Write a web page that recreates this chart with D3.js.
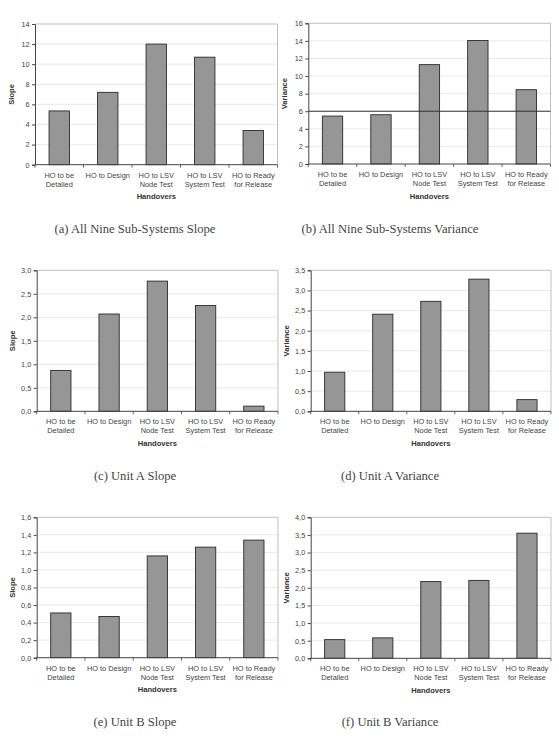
<!DOCTYPE html>
<html>
<head>
<meta charset="utf-8">
<script src="https://cdn.jsdelivr.net/npm/d3@7"></script>
<style>
  body { margin: 0; background: #fff; }
  svg { display: block; }
</style>
</head>
<body>
<div class="figure"></div>
<script>
// handover categories, two-line labels split on "|"
const categories = ["HO to be|Detailed", "HO to Design", "HO to LSV|Node Test", "HO to LSV|System Test", "HO to Ready|for Release"];

const slopeAll = [5.35, 7.2, 12.0, 10.7, 3.4];
const varianceAll = [5.45, 5.6, 11.3, 14.05, 8.45];
const slopeUnitA = [0.87, 2.07, 2.77, 2.25, 0.11];
const varianceUnitA = [0.97, 2.41, 2.73, 3.28, 0.29];
const slopeUnitB = [0.51, 0.47, 1.16, 1.26, 1.34];
const varianceUnitB = [0.53, 0.58, 2.18, 2.21, 3.55];
const varianceThresholdAll = 6;

const yMaxes = [14, 16, 3.0, 3.5, 1.6, 4.0];
const yStepsList = [2, 2, 0.5, 0.5, 0.2, 0.5];
const captions = [
    "(a) All Nine Sub-Systems Slope",
    "(b) All Nine Sub-Systems Variance",
    "(c) Unit A Slope",
    "(d) Unit A Variance",
    "(e) Unit B Slope",
    "(f) Unit B Variance"
];

const width = 559, height = 753;
let svg = d3.select("div.figure").append("svg")
    .attr("width", width)
    .attr("height", height);

// plot boxes: left/right x, top/zero y
let panels = [
    { values: slopeAll, yTitle: "Slope", x0: 35, x1: 277.5, y0: 24, y1: 164.7, cap: 229, fmt: d3.format("d"), line: null },
    { values: varianceAll, yTitle: "Variance", x0: 308.3, x1: 550.5, y0: 23.3, y1: 164, cap: 229, fmt: d3.format("d"), line: varianceThresholdAll },
    { values: slopeUnitA, yTitle: "Slope", x0: 36.7, x1: 278, y0: 270.3, y1: 411.3, cap: 475.5, fmt: null, line: null },
    { values: varianceUnitA, yTitle: "Variance", x0: 310.7, x1: 551, y0: 270.3, y1: 411.3, cap: 475.5, fmt: null, line: null },
    { values: slopeUnitB, yTitle: "Slope", x0: 36.7, x1: 278, y0: 517.3, y1: 657.7, cap: 722, fmt: null, line: null },
    { values: varianceUnitB, yTitle: "Variance", x0: 310.7, x1: 551, y0: 517.3, y1: 658.3, cap: 722, fmt: null, line: null }
];

const commaFmt = d => d3.format(".1f")(d).replace(".", ",");
const sans = "Liberation Sans, Arial, sans-serif";

panels.forEach((p, i) => {
    let g = svg.append("g");
    let x = d3.scaleBand()
        .domain(categories)
        .range([p.x0, p.x1])
        .paddingInner(0.58)
        .paddingOuter(0.29);
    let y = d3.scaleLinear().domain([0, yMaxes[i]]).range([p.y1, p.y0]);
    let ticks = d3.range(0, yMaxes[i] + yStepsList[i] / 2, yStepsList[i]);
    let fmt = p.fmt || commaFmt;

    // gridlines
    g.selectAll("line.grid")
        .data(ticks.slice(1, -1))
        .enter().append("line")
        .attr("x1", p.x0).attr("x2", p.x1)
        .attr("y1", d => y(d)).attr("y2", d => y(d))
        .attr("stroke", "#e4e4e4").attr("stroke-width", 0.8);

    // frame top/right
    g.append("path")
        .attr("d", `M${p.x0},${p.y0}H${p.x1}V${p.y1}`)
        .attr("fill", "none")
        .attr("stroke", "#b8b8b8")
        .attr("stroke-width", 0.9);

    // bars
    g.selectAll("rect.bar")
        .data(p.values)
        .enter().append("rect")
        .attr("x", (d, j) => x(categories[j]))
        .attr("width", x.bandwidth())
        .attr("y", d => y(d))
        .attr("height", d => y(0) - y(d))
        .attr("fill", "#969696")
        .attr("stroke", "#2a2a2a")
        .attr("stroke-width", 0.9);

    if (p.line !== null) {
        g.append("line")
            .attr("x1", p.x0).attr("x2", p.x1)
            .attr("y1", y(p.line)).attr("y2", y(p.line))
            .attr("stroke", "#333")
            .attr("stroke-width", 1);
    }

    // y axis
    let yAxis = d3.axisLeft(y).tickValues(ticks).tickFormat(fmt).tickSize(3).tickPadding(2.5);
    let ya = g.append("g").attr("transform", `translate(${p.x0},0)`).call(yAxis);
    ya.select(".domain").attr("stroke", "#444");
    ya.selectAll(".tick line").attr("stroke", "#444");
    ya.selectAll("text")
        .attr("font-family", sans)
        .attr("font-size", 7.3)
        .attr("fill", "#444");

    // x axis: ticks at band edges
    let edges = categories.map(c => x(c) - x.step() * 0.29).concat([p.x1]);
    g.append("line")
        .attr("x1", p.x0).attr("x2", p.x1)
        .attr("y1", p.y1).attr("y2", p.y1)
        .attr("stroke", "#444").attr("stroke-width", 1);
    g.selectAll("line.xtick")
        .data(edges)
        .enter().append("line")
        .attr("x1", d => d).attr("x2", d => d)
        .attr("y1", p.y1).attr("y2", p.y1 + 3)
        .attr("stroke", "#444").attr("stroke-width", 0.8);

    let labels = g.selectAll("text.cat")
        .data(categories)
        .enter().append("text")
        .attr("x", d => x(d) + x.bandwidth() / 2)
        .attr("y", p.y1 + 12.8)
        .attr("text-anchor", "middle")
        .attr("font-family", sans)
        .attr("font-size", 7.4)
        .attr("fill", "#444");
    labels.each(function (d) {
        let parts = d.split("|");
        d3.select(this).selectAll("tspan")
            .data(parts)
            .enter().append("tspan")
            .attr("x", x(d) + x.bandwidth() / 2)
            .attr("dy", (t, k) => k === 0 ? 0 : 9)
            .text(t => t);
    });

    g.append("text")
        .attr("x", (p.x0 + p.x1) / 2)
        .attr("y", p.y1 + 34.5)
        .attr("text-anchor", "middle")
        .attr("font-family", sans)
        .attr("font-size", 7.6)
        .attr("font-weight", "bold")
        .attr("fill", "#333")
        .text("Handovers");

    g.append("text")
        .attr("transform", `translate(${p.x0 - 21.5},${(p.y0 + p.y1) / 2}) rotate(-90)`)
        .attr("text-anchor", "middle")
        .attr("font-family", sans)
        .attr("font-size", 7.6)
        .attr("font-weight", "bold")
        .attr("fill", "#333")
        .text(p.yTitle);

    // caption
    svg.append("text")
        .attr("x", i % 2 === 0 ? 135 : 390)
        .attr("y", p.cap + 4)
        .attr("text-anchor", "middle")
        .attr("font-family", "Liberation Serif, DejaVu Serif, serif")
        .attr("font-size", 12.6)
        .attr("fill", "#444")
        .text(captions[i]);
});
</script>
</body>
</html>
